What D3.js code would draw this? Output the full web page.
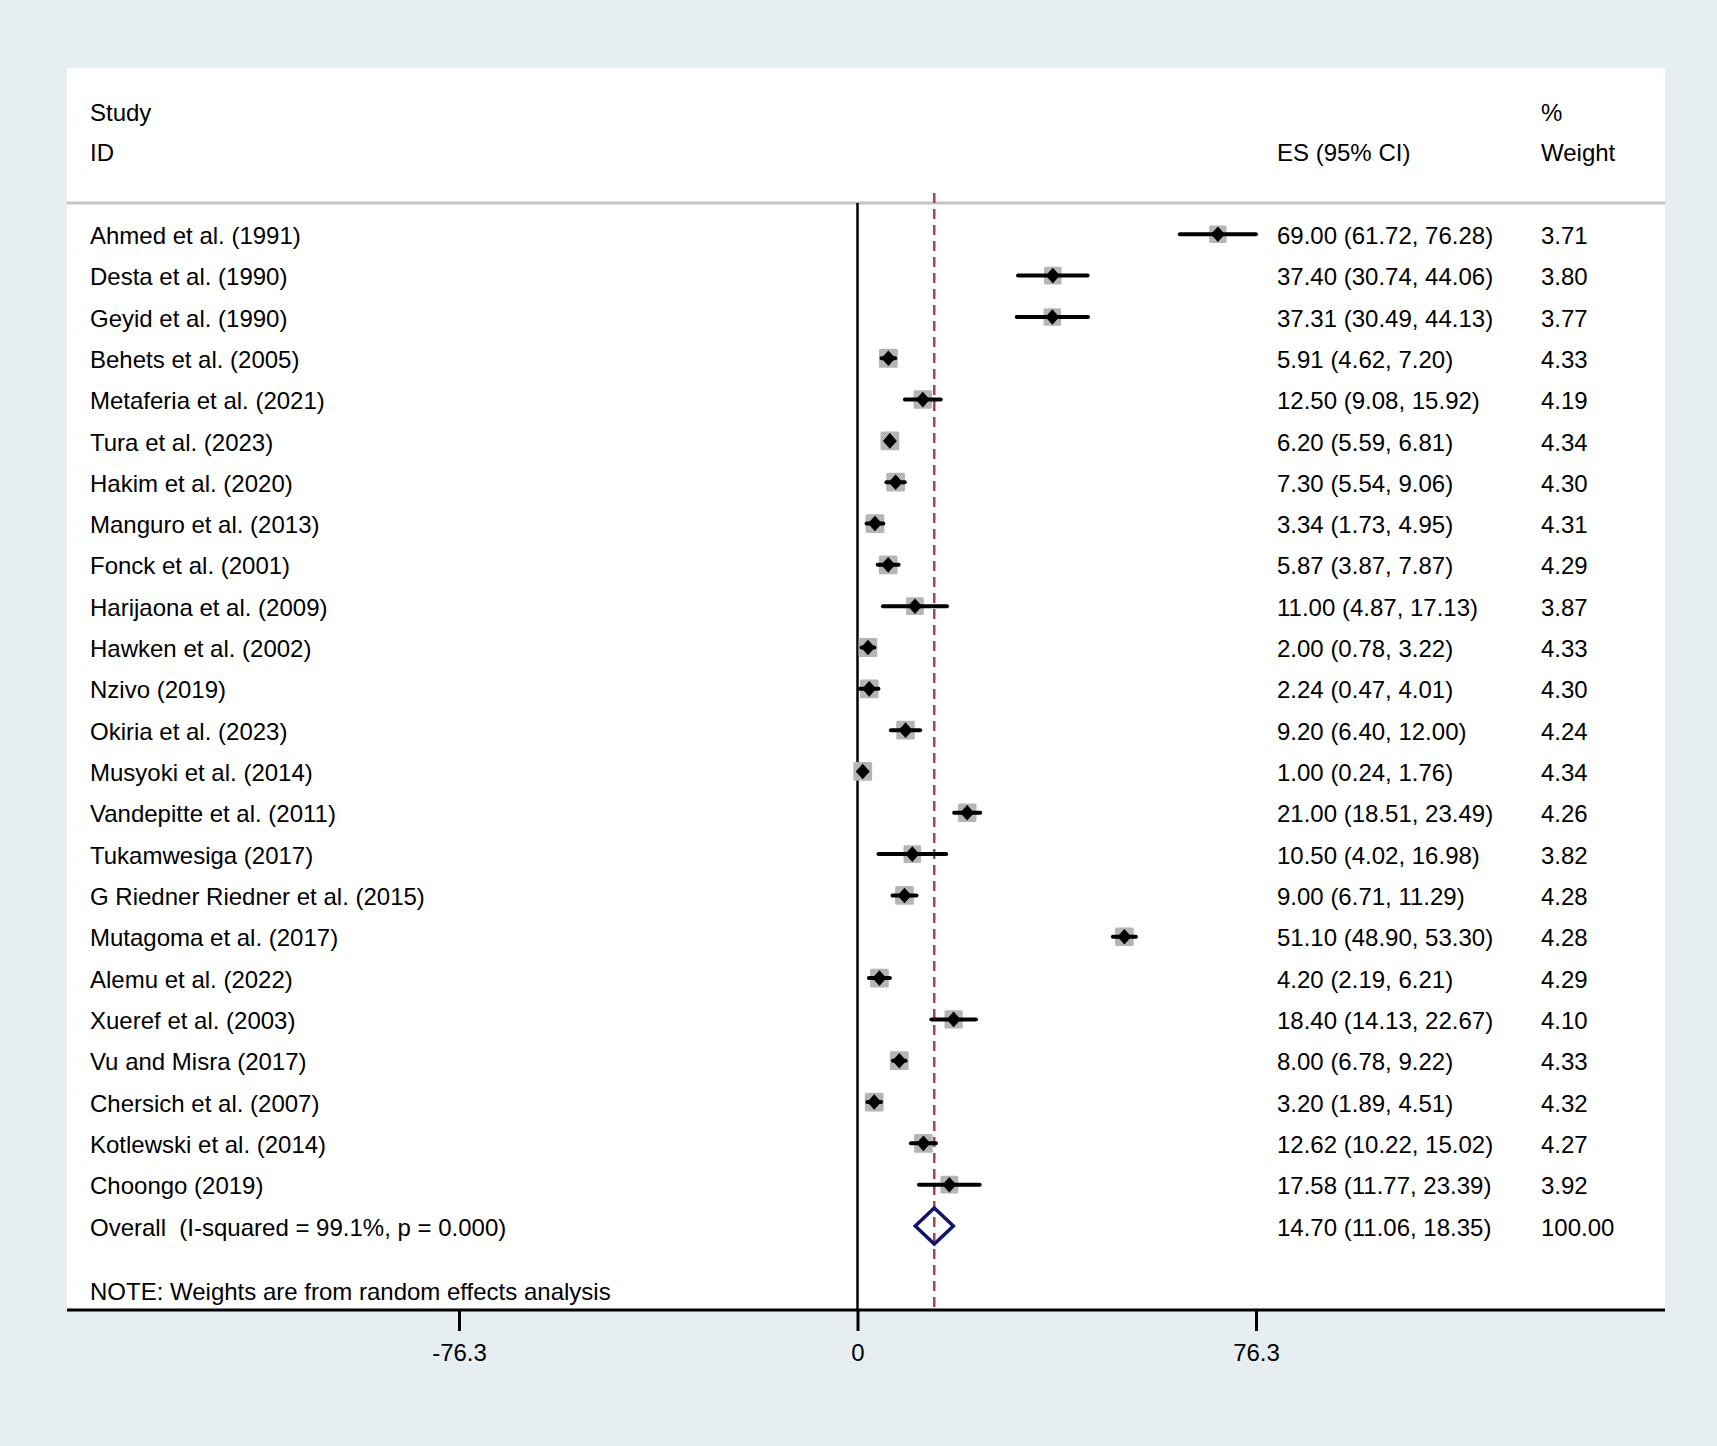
<!DOCTYPE html>
<html>
<head>
<meta charset="utf-8">
<script src="https://cdn.jsdelivr.net/npm/d3@7"></script>
<style>
  html, body { margin: 0; padding: 0; background: #e7eef2; }
  svg text { font-family: "Liberation Sans", Arial, sans-serif; fill: #000; white-space: pre; }
</style>
</head>
<body>
<div id="chart"></div>
<script>
// study rows
var studies = [
  "Ahmed et al. (1991)", "Desta et al. (1990)", "Geyid et al. (1990)", "Behets et al. (2005)",
  "Metaferia et al. (2021)", "Tura et al. (2023)", "Hakim et al. (2020)", "Manguro et al. (2013)",
  "Fonck et al. (2001)", "Harijaona et al. (2009)", "Hawken et al. (2002)", "Nzivo (2019)",
  "Okiria et al. (2023)", "Musyoki et al. (2014)", "Vandepitte et al. (2011)", "Tukamwesiga (2017)",
  "G Riedner Riedner et al. (2015)", "Mutagoma et al. (2017)", "Alemu et al. (2022)", "Xueref et al. (2003)",
  "Vu and Misra (2017)", "Chersich et al. (2007)", "Kotlewski et al. (2014)", "Choongo (2019)"
];
var es    = [69.00, 37.40, 37.31, 5.91, 12.50, 6.20, 7.30, 3.34, 5.87, 11.00, 2.00, 2.24,
             9.20, 1.00, 21.00, 10.50, 9.00, 51.10, 4.20, 18.40, 8.00, 3.20, 12.62, 17.58];
var lower = [61.72, 30.74, 30.49, 4.62, 9.08, 5.59, 5.54, 1.73, 3.87, 4.87, 0.78, 0.47,
             6.40, 0.24, 18.51, 4.02, 6.71, 48.90, 2.19, 14.13, 6.78, 1.89, 10.22, 11.77];
var upper = [76.28, 44.06, 44.13, 7.20, 15.92, 6.81, 9.06, 4.95, 7.87, 17.13, 3.22, 4.01,
             12.00, 1.76, 23.49, 16.98, 11.29, 53.30, 6.21, 22.67, 9.22, 4.51, 15.02, 23.39];
var weights = [3.71, 3.80, 3.77, 4.33, 4.19, 4.34, 4.30, 4.31, 4.29, 3.87, 4.33, 4.30,
               4.24, 4.34, 4.26, 3.82, 4.28, 4.28, 4.29, 4.10, 4.33, 4.32, 4.27, 3.92];

var overallLabel = "Overall  (I-squared = 99.1%, p = 0.000)";
var overall = { es: 14.70, lower: 11.06, upper: 18.35, weight: 100.00 };
var axisTicks = [-76.3, 0, 76.3];
var noteText = "NOTE: Weights are from random effects analysis";

var width = 1717, height = 1446;
var panel = { left: 67, right: 1665, top: 68, bottom: 1310 };
var fontSize = 24;

var svg = d3.select("#chart").append("svg")
  .attr("width", width).attr("height", height);

svg.append("rect").attr("width", width).attr("height", height).attr("fill", "#e7eef2");
svg.append("rect")
  .attr("x", panel.left).attr("y", panel.top)
  .attr("width", panel.right - panel.left).attr("height", panel.bottom - panel.top)
  .attr("fill", "#fff");

var x = d3.scaleLinear().domain([-76.3, 76.3]).range([459, 1256]);
var rows = studies.concat([overallLabel]);
var y = d3.scalePoint().domain(rows).range([234.3, 1226]);
var boxSize = d3.scaleSqrt().domain([0, 4.34]).range([0, 18.8]);

var labelX = 90, esX = 1277, wX = 1541;

// header
function header(txt, xx, yy) {
  svg.append("text").attr("x", xx).attr("y", yy).attr("dy", "0.35em")
    .style("font-size", fontSize + "px").text(txt);
}
header("Study", labelX, 113);
header("ID", labelX, 153);
header("ES (95% CI)", esX, 153);
header("%", wX, 113);
header("Weight", wX, 153);

svg.append("line")
  .attr("x1", panel.left).attr("x2", panel.right)
  .attr("y1", 203).attr("y2", 203)
  .attr("stroke", "#c4c4c4").attr("stroke-width", 3);

// null line and pooled estimate line
svg.append("line")
  .attr("x1", x(0)).attr("x2", x(0)).attr("y1", 203).attr("y2", panel.bottom)
  .attr("stroke", "#000").attr("stroke-width", 2.5);
svg.append("line")
  .attr("x1", x(overall.es)).attr("x2", x(overall.es)).attr("y1", 193).attr("y2", panel.bottom)
  .attr("stroke", "#a3474a").attr("stroke-width", 2.5).attr("stroke-dasharray", "10,6");

// study markers
var g = svg.append("g").selectAll("g").data(studies).join("g")
  .attr("transform", (d, i) => `translate(0,${y(d)})`);

g.append("rect")
  .attr("x", (d, i) => x(es[i]) - boxSize(weights[i]) / 2)
  .attr("y", (d, i) => -boxSize(weights[i]) / 2)
  .attr("width", (d, i) => boxSize(weights[i]))
  .attr("height", (d, i) => boxSize(weights[i]))
  .attr("rx", 1.5)
  .attr("fill", "#b5b5b5");

g.append("line")
  .attr("x1", (d, i) => x(lower[i])).attr("x2", (d, i) => x(upper[i]))
  .attr("stroke", "#000").attr("stroke-width", 4).attr("stroke-linecap", "round");

g.append("path")
  .attr("d", (d, i) => {
    var cx = x(es[i]);
    return `M${cx - 7},0L${cx},-7.8L${cx + 7},0L${cx},7.8Z`;
  })
  .attr("fill", "#000");

g.append("text").attr("x", labelX).attr("dy", "0.4em")
  .style("font-size", fontSize + "px").text(d => d);
g.append("text").attr("x", esX).attr("dy", "0.4em")
  .style("font-size", fontSize + "px")
  .text((d, i) => `${es[i].toFixed(2)} (${lower[i].toFixed(2)}, ${upper[i].toFixed(2)})`);
g.append("text").attr("x", wX).attr("dy", "0.4em")
  .style("font-size", fontSize + "px").text((d, i) => weights[i].toFixed(2));

// overall row
var oy = y(overallLabel);
svg.append("path")
  .attr("d", `M${x(overall.lower)},${oy}L${x(overall.es)},${oy - 18}L${x(overall.upper)},${oy}L${x(overall.es)},${oy + 18}Z`)
  .attr("fill", "none").attr("stroke", "#14146a").attr("stroke-width", 3.5);
svg.append("text").attr("x", labelX).attr("y", oy).attr("dy", "0.4em")
  .style("font-size", fontSize + "px").text(overallLabel);
svg.append("text").attr("x", esX).attr("y", oy).attr("dy", "0.4em")
  .style("font-size", fontSize + "px")
  .text(`${overall.es.toFixed(2)} (${overall.lower.toFixed(2)}, ${overall.upper.toFixed(2)})`);
svg.append("text").attr("x", wX).attr("y", oy).attr("dy", "0.4em")
  .style("font-size", fontSize + "px").text(overall.weight.toFixed(2));

svg.append("text").attr("x", labelX).attr("y", 1290).attr("dy", "0.4em")
  .style("font-size", fontSize + "px").text(noteText);

// x axis (plain hyphen for the negative tick, as in the original)
var axis = svg.append("g").attr("transform", `translate(0,${panel.bottom})`)
  .call(d3.axisBottom(x).tickValues(axisTicks).tickSize(21).tickPadding(13)
    .tickFormat(d => d === 0 ? "0" : (d < 0 ? "-" : "") + Math.abs(d).toFixed(1)));
axis.select(".domain").remove();
axis.selectAll(".tick line").attr("stroke", "#000").attr("stroke-width", 3);
axis.selectAll(".tick text").style("font-size", fontSize + "px")
  .style("font-family", "'Liberation Sans', Arial, sans-serif").attr("fill", "#000");
svg.append("line")
  .attr("x1", panel.left).attr("x2", panel.right)
  .attr("y1", panel.bottom).attr("y2", panel.bottom)
  .attr("stroke", "#000").attr("stroke-width", 3);
</script>
</body>
</html>
